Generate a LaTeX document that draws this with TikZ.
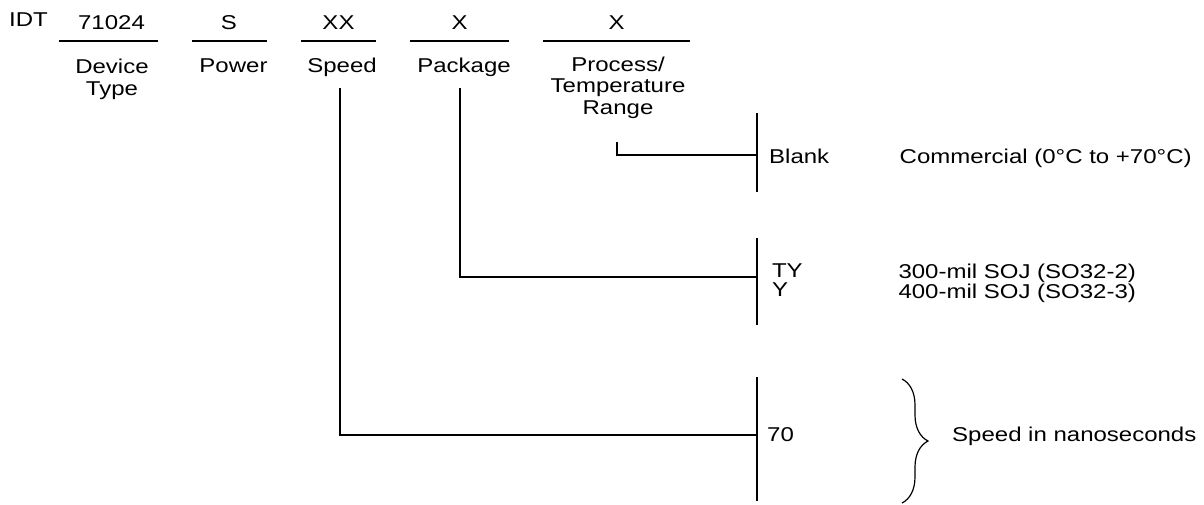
\documentclass[tikz,border=0pt]{standalone}
\usepackage{fontspec}
\setmainfont{Liberation Sans}[FakeStretch=1.2]
\usetikzlibrary{decorations.pathreplacing}

\begin{document}
\begin{tikzpicture}[x=1pt,y=-1pt,
   every node/.style={inner sep=0pt,font=\fontsize{20}{21.5}\selectfont},
   heavy/.style={line width=2.8pt},
   lbl/.style={anchor=north,align=center},
   code/.style={anchor=base west}]
\useasboundingbox (0,0) rectangle (1204,504);
\node[anchor=base] (idt) at (28.5,26.7) {IDT};
\foreach \name/\txt/\x/\a/\b in {dev/71024/111.5/59/158,pow/S/229/192/267,
      spd/XX/338.5/301/376,pkg/X/459.5/410/509,tmp/X/616.5/543/690}
  {\node[anchor=base] (\name) at (\x,29.3) {\txt};
   \draw[heavy] (\a,41) -- (\b,41);}
\node[lbl] (devl) at (112,59) {Device\\Type};
\node[lbl] (powl) at (233.5,58.3) {Power};
\node[lbl] (spdl) at (342,58) {Speed};
\node[lbl] (pkgl) at (464,58) {Package};
\node[lbl] (tmpl) at (618,56.7) {Process/\\Temperature\\Range};
% option bars
\draw[heavy] (757,113) -- (757,192);
\draw[heavy] (757,238) -- (757,325);
\draw[heavy] (757,377) -- (757,501);
\coordinate (tmpfoot) at (617,142);
\coordinate (pkgfoot) at (460,88);
\coordinate (spdfoot) at (340,88);
\coordinate (tee1) at (757,155);
\coordinate (tee2) at (757,277);
\coordinate (tee3) at (757,435);
\draw[heavy] (tmpfoot) |- (tee1);
\draw[heavy] (pkgfoot) |- (tee2);
\draw[heavy] (spdfoot) |- (tee3);
% codes
\node[code] (blank) at (769,163.3) {Blank};
\node[code] (comm) at (899.5,163.3) {Commercial (0°C to +70°C)};
\node[anchor=north west,align=left,font=\fontsize{20}{18.4}\selectfont] (pkgcodes) at (771.8,264) {TY\\Y};
\node[anchor=north west,align=left,font=\fontsize{20}{18.4}\selectfont] (pkgdesc) at (898.3,263.7) {300-mil SOJ (SO32-2)\\400-mil SOJ (SO32-3)};
\node[code] (spd70) at (767,441.7) {70};
\draw[line width=1.2pt,decorate,decoration={brace,amplitude=26pt}] (902,379) -- (902,503);
\node[code] (spdtxt) at (952,441.7) {Speed in nanoseconds};
\end{tikzpicture}
\end{document}
